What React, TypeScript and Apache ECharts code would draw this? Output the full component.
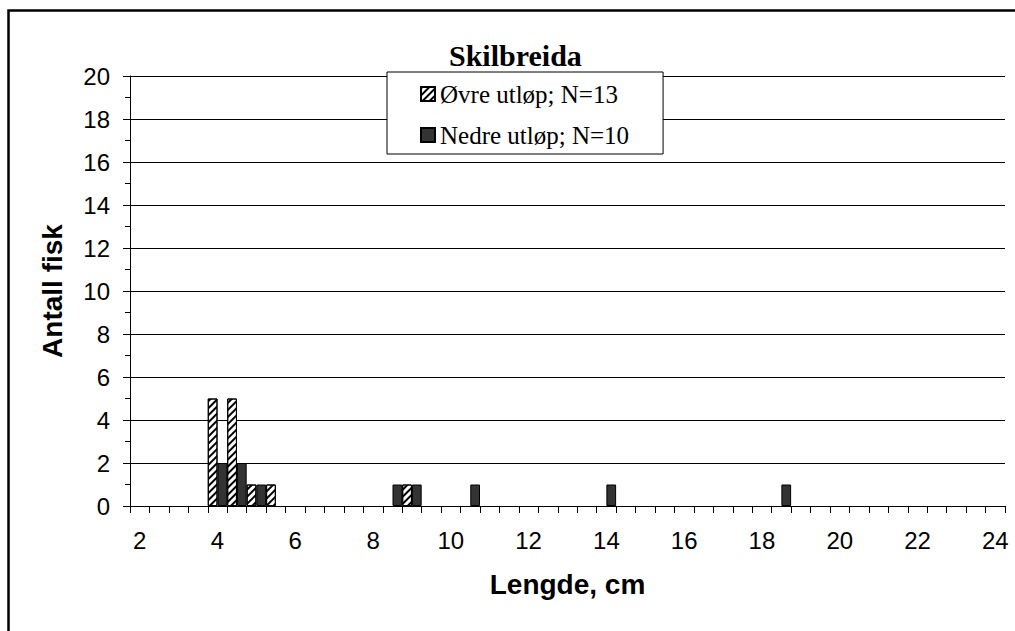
import React, { useEffect, useRef } from "react";
import * as echarts from "echarts";

const titleText = "Skilbreida";
const xName = "Lengde, cm";
const yName = "Antall fisk";
const seriesNames = ["Øvre utløp; N=13", "Nedre utløp; N=10"];

const categories = [
  "2", "2.5", "3", "3.5", "4", "4.5", "5", "5.5", "6", "6.5",
  "7", "7.5", "8", "8.5", "9", "9.5", "10", "10.5", "11", "11.5",
  "12", "12.5", "13", "13.5", "14", "14.5", "15", "15.5", "16", "16.5",
  "17", "17.5", "18", "18.5", "19", "19.5", "20", "20.5", "21", "21.5",
  "22", "22.5", "23", "23.5", "24",
];

const ovre = [
  0, 0, 0, 0, 5, 5, 1, 1, 0, 0,
  0, 0, 0, 0, 1, 0, 0, 0, 0, 0,
  0, 0, 0, 0, 0, 0, 0, 0, 0, 0,
  0, 0, 0, 0, 0, 0, 0, 0, 0, 0,
  0, 0, 0, 0, 0,
];

const nedre = [
  0, 0, 0, 0, 2, 2, 1, 0, 0, 0,
  0, 0, 0, 1, 1, 0, 0, 1, 0, 0,
  0, 0, 0, 0, 1, 0, 0, 0, 0, 0,
  0, 0, 0, 1, 0, 0, 0, 0, 0, 0,
  0, 0, 0, 0, 0,
];

const yMin = 0;
const yMax = 20;
const yInterval = 2;

const SANS = "'Liberation Sans', Arial, sans-serif";
const SERIF = "'Liberation Serif', 'Times New Roman', serif";

export default function App() {
  const ref = useRef<HTMLDivElement>(null);

  useEffect(() => {
    document.documentElement.style.overflow = "hidden";
    document.body.style.overflow = "hidden";
    document.body.style.margin = "0";
    if (!ref.current) return;
    const chart = echarts.init(ref.current, undefined, { renderer: "svg" });
    const toData = (arr: number[]) => arr.map((v) => (v === 0 ? "-" : v));
    chart.setOption({
      animation: false,
      backgroundColor: "#ffffff",
      title: {
        text: titleText,
        left: 449,
        top: 40,
        padding: 0,
        textStyle: {
          fontFamily: SERIF,
          fontWeight: "bold",
          fontSize: 30,
          color: "#000",
        },
      },
      legend: {
        orient: "vertical",
        left: 387,
        top: 72,
        padding: [8, 34, 5, 33],
        itemGap: 13,
        itemWidth: 14,
        itemHeight: 14,
        icon: "rect",
        backgroundColor: "#fff",
        borderColor: "#000",
        borderWidth: 1,
        borderRadius: 0,
        selectedMode: false,
        textStyle: {
          fontFamily: SERIF,
          fontSize: 25,
          color: "#000",
          lineHeight: 28,
        },
        data: seriesNames,
      },
      grid: { left: 130, right: 10, top: 76, bottom: 125 },
      xAxis: {
        type: "category",
        data: categories,
        boundaryGap: true,
        name: xName,
        nameLocation: "middle",
        nameGap: 64,
        nameTextStyle: {
          fontFamily: SANS,
          fontWeight: "bold",
          fontSize: 28,
          color: "#000",
        },
        axisLine: { show: true, lineStyle: { color: "#000", width: 1 } },
        axisTick: {
          show: true,
          interval: 0,
          alignWithLabel: false,
          length: 7,
          lineStyle: { color: "#000" },
        },
        axisLabel: {
          interval: 3,
          margin: 22,
          fontFamily: SANS,
          fontSize: 24,
          color: "#000",
        },
        splitLine: { show: false },
      },
      yAxis: {
        type: "value",
        min: yMin,
        max: yMax,
        interval: yInterval,
        name: yName,
        nameLocation: "middle",
        nameGap: 64,
        nameTextStyle: {
          fontFamily: SANS,
          fontWeight: "bold",
          fontSize: 28,
          color: "#000",
        },
        axisLine: { show: true, lineStyle: { color: "#000", width: 1 } },
        axisTick: { show: true, length: 7, lineStyle: { color: "#000" } },
        minorTick: {
          show: true,
          splitNumber: 2,
          length: 5,
          lineStyle: { color: "#000" },
        },
        axisLabel: {
          margin: 20,
          fontFamily: SANS,
          fontSize: 24,
          color: "#000",
        },
        splitLine: { show: true, lineStyle: { color: "#000", width: 1 } },
      },
      series: [
        {
          name: seriesNames[0],
          type: "bar",
          data: toData(ovre),
          barGap: "0%",
          barCategoryGap: "0%",
          itemStyle: {
            color: "#ffffff",
            borderColor: "#000",
            borderWidth: 1,
            decal: {
              symbol: "rect",
              symbolSize: 1,
              color: "#000",
              dashArrayX: [1, 0],
              dashArrayY: [2, 2.5],
              rotation: -Math.PI / 4,
            },
          },
        },
        {
          name: seriesNames[1],
          type: "bar",
          data: toData(nedre),
          barGap: "0%",
          barCategoryGap: "0%",
          itemStyle: {
            color: "#333333",
            borderColor: "#000",
            borderWidth: 1,
          },
        },
      ],
      graphic: [
        {
          type: "polyline",
          silent: true,
          shape: {
            points: [
              [8.5, 631],
              [8.5, 10.5],
              [1015, 10.5],
            ],
          },
          style: { fill: null, stroke: "#000", lineWidth: 2.5 },
        },
      ],
    });
    return () => chart.dispose();
  }, []);

  return (
    <div
      ref={ref}
      style={{ position: "absolute", left: 0, top: 0, width: 1015, height: 631 }}
    />
  );
}
